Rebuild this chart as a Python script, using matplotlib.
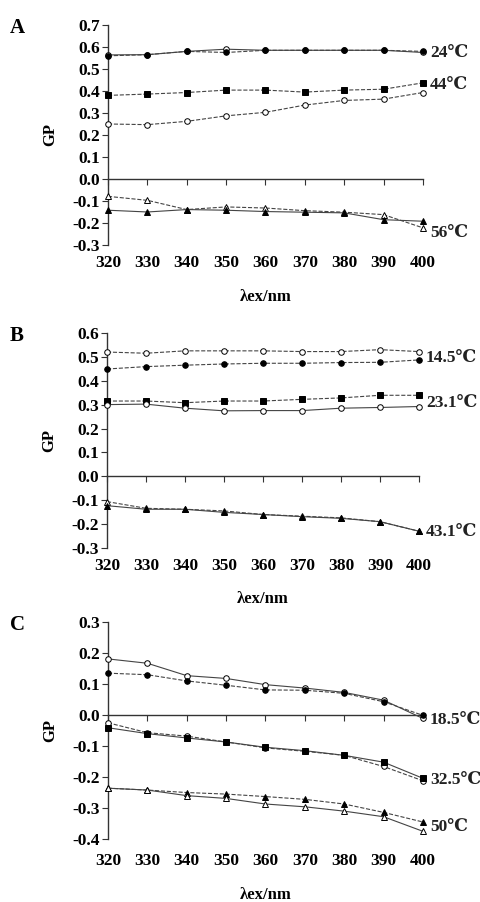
import matplotlib
matplotlib.use("Agg")
import matplotlib.pyplot as plt
import matplotlib.transforms as mtransforms
import numpy as np

plt.rcParams['font.family'] = ['Liberation Serif', 'DejaVu Serif']
plt.rcParams['font.weight'] = 'bold'

wl = [320, 330, 340, 350, 360, 370, 380, 390, 400]

# panel A
a_24_open = [0.564, 0.565, 0.58, 0.59, 0.585, 0.585, 0.585, 0.585, 0.575]
a_24_fill = [0.56, 0.565, 0.58, 0.575, 0.585, 0.585, 0.585, 0.585, 0.58]
a_44_fill = [0.38, 0.386, 0.393, 0.404, 0.404, 0.395, 0.404, 0.408, 0.437]
a_44_open = [0.25, 0.247, 0.262, 0.287, 0.303, 0.336, 0.357, 0.363, 0.393]
a_56_open = [-0.079, -0.097, -0.139, -0.127, -0.132, -0.144, -0.151, -0.162, -0.222]
a_56_fill = [-0.142, -0.15, -0.139, -0.142, -0.148, -0.151, -0.154, -0.185, -0.192]

# panel B
b_145_open = [0.52, 0.515, 0.525, 0.525, 0.525, 0.522, 0.522, 0.53, 0.522]
b_145_fill = [0.449, 0.459, 0.465, 0.47, 0.473, 0.473, 0.476, 0.477, 0.487]
b_231_fill = [0.315, 0.315, 0.308, 0.315, 0.315, 0.322, 0.328, 0.339, 0.339]
b_231_open = [0.30, 0.302, 0.285, 0.274, 0.275, 0.275, 0.285, 0.288, 0.292]
b_431_open = [-0.106, -0.134, -0.138, -0.145, -0.16, -0.167, -0.174, -0.19, -0.23]
b_431_fill = [-0.123, -0.138, -0.138, -0.151, -0.16, -0.169, -0.176, -0.19, -0.23]

# panel C
c_185_open = [0.181, 0.167, 0.127, 0.118, 0.098, 0.087, 0.073, 0.048, -0.011]
c_185_fill = [0.135, 0.13, 0.11, 0.096, 0.081, 0.08, 0.07, 0.043, -0.001]
c_325_open = [-0.025, -0.057, -0.068, -0.087, -0.106, -0.117, -0.13, -0.166, -0.212]
c_325_fill = [-0.041, -0.06, -0.074, -0.087, -0.104, -0.115, -0.13, -0.152, -0.204]
c_50_fill = [-0.236, -0.242, -0.25, -0.255, -0.263, -0.272, -0.287, -0.314, -0.345]
c_50_open = [-0.236, -0.242, -0.26, -0.269, -0.287, -0.296, -0.31, -0.328, -0.375]

panels = [
    dict(letter='A', rect=[0.225, 0.7284, 0.656, 0.2439], ylim=(-0.3, 0.7),
         tl=-0.045, xl=-0.2,
         series=[(a_24_open, 'o', False, '-'), (a_24_fill, 'o', True, '--'),
                 (a_44_fill, 's', True, '--'), (a_44_open, 'o', False, '--'),
                 (a_56_open, '^', False, '--'), (a_56_fill, '^', True, '-')],
         labels=[('24℃', 0.572), ('44℃', 0.427), ('56℃', -0.245)]),
    dict(letter='B', rect=[0.223, 0.3925, 0.65, 0.2384], ylim=(-0.3, 0.6),
         tl=-0.045, xl=-0.2,
         series=[(b_145_open, 'o', False, '--'), (b_145_fill, 'o', True, '--'),
                 (b_231_fill, 's', True, '--'), (b_231_open, 'o', False, '-'),
                 (b_431_open, '^', False, '--'), (b_431_fill, '^', True, '-')],
         labels=[('14.5℃', 0.494), ('23.1℃', 0.305), ('43.1℃', -0.234)]),
    dict(letter='C', rect=[0.225, 0.0698, 0.656, 0.2406], ylim=(-0.4, 0.3),
         tl=-0.065, xl=-0.22,
         series=[(c_185_open, 'o', False, '-'), (c_185_fill, 'o', True, '--'),
                 (c_325_open, 'o', False, '--'), (c_325_fill, 's', True, '-'),
                 (c_50_fill, '^', True, '--'), (c_50_open, '^', False, '-')],
         labels=[('18.5℃', -0.016), ('32.5℃', -0.21), ('50℃', -0.36)]),
]

fig = plt.figure(figsize=(4.8, 9.02), dpi=100)

for p in panels:
    ax = fig.add_axes(p['rect'])
    lo, hi = p['ylim']
    for vals, mk, filled, ls in p['series']:
        ax.plot(wl, vals, color='#444444', lw=0.8, ls=ls, marker=mk, ms=4,
                mfc='black' if filled else 'white', mec='black', mew=0.7,
                clip_on=False, zorder=3)
    ax.set_xlim(320, 400)
    ax.set_ylim(lo, hi)
    ax.spines['top'].set_visible(False)
    ax.spines['right'].set_visible(False)
    ax.spines['bottom'].set_position(('data', 0))
    ax.spines['left'].set_color('#333333')
    ax.spines['bottom'].set_color('#333333')
    ax.spines['left'].set_linewidth(1.0)
    ax.spines['bottom'].set_linewidth(1.0)
    ax.set_xticks(wl)
    yt = np.round(np.arange(lo, hi + 0.001, 0.1), 1)
    ax.set_yticks(yt)
    ax.set_yticklabels(['%.1f' % (v if abs(v) > 1e-9 else 0.0) for v in yt])
    ax.tick_params(axis='x', direction='out', length=4, labelbottom=False, color='#333333')
    ax.tick_params(axis='y', direction='out', length=4, labelsize=12.5, pad=2, color='#333333')
    for t in ax.get_yticklabels():
        t.set_fontweight('bold')
    trans = mtransforms.blended_transform_factory(ax.transData, ax.transAxes)
    for w in wl:
        ax.text(w, p['tl'], str(w), transform=trans, ha='center', va='top',
                fontsize=12.5, fontweight='bold')
    ax.text(0.5, p['xl'], 'λex/nm', transform=ax.transAxes, ha='center', va='top',
            fontsize=12, fontweight='bold')
    ax.set_ylabel('GP', fontsize=12, fontweight='bold', labelpad=10)
    for txt, yv in p['labels']:
        ax.text(401.8, yv, txt, ha='left', va='center', fontsize=12.5,
                fontweight='bold', color='#222222',
                family=['Liberation Serif', 'DejaVu Serif'])
    fig.text(0.02, p['rect'][1] + p['rect'][3] - 0.003, p['letter'],
             fontsize=15, fontweight='bold', va='center', ha='left')

fig.savefig('out.png', dpi=100)
